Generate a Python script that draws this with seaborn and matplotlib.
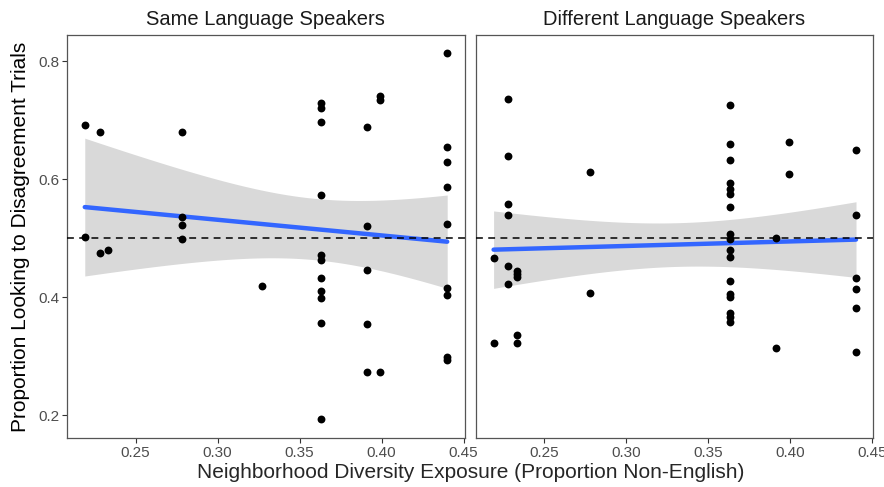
import pandas as pd
import numpy as np
import matplotlib
matplotlib.use("Agg")
import matplotlib.pyplot as plt
import seaborn as sns

# Same Language Speakers
same_x = [0.219, 0.219,
          0.228, 0.228,
          0.233,
          0.278, 0.278, 0.278, 0.278,
          0.327,
          0.363, 0.363, 0.363, 0.363, 0.363, 0.363, 0.363, 0.363, 0.363, 0.363, 0.363,
          0.391, 0.391, 0.391, 0.391, 0.391,
          0.399, 0.399, 0.399,
          0.440, 0.440, 0.440, 0.440, 0.440, 0.440, 0.440, 0.440, 0.440]
same_y = [0.692, 0.502,
          0.680, 0.475,
          0.480,
          0.681, 0.536, 0.523, 0.499,
          0.420,
          0.729, 0.721, 0.698, 0.574, 0.472, 0.463, 0.432, 0.411, 0.399, 0.357, 0.193,
          0.689, 0.521, 0.447, 0.355, 0.273,
          0.742, 0.735, 0.273,
          0.814, 0.655, 0.630, 0.587, 0.525, 0.416, 0.404, 0.299, 0.293]

# Different Language Speakers
diff_x = [0.219, 0.219,
          0.228, 0.228, 0.228, 0.228, 0.228, 0.228,
          0.233, 0.233, 0.233, 0.233, 0.233,
          0.278, 0.278,
          0.363, 0.363, 0.363, 0.363, 0.363, 0.363, 0.363, 0.363, 0.363, 0.363, 0.363,
          0.363, 0.363, 0.363, 0.363, 0.363, 0.363,
          0.391, 0.391,
          0.399, 0.399,
          0.440, 0.440, 0.440, 0.440, 0.440, 0.440]
diff_y = [0.466, 0.322,
          0.736, 0.640, 0.559, 0.539, 0.454, 0.423,
          0.445, 0.439, 0.434, 0.336, 0.322,
          0.612, 0.408,
          0.726, 0.660, 0.632, 0.594, 0.584, 0.575, 0.554, 0.508, 0.499, 0.480, 0.469,
          0.428, 0.406, 0.401, 0.373, 0.366, 0.359,
          0.501, 0.314,
          0.663, 0.609,
          0.650, 0.539, 0.432, 0.415, 0.382, 0.307]

panel_titles = ["Same Language Speakers", "Different Language Speakers"]
x_ticks = [0.25, 0.30, 0.35, 0.40, 0.45]
y_ticks = [0.2, 0.4, 0.6, 0.8]


def t_crit(dof):
    try:
        from scipy import stats
        return stats.t.ppf(0.975, dof)
    except ImportError:
        return 2.03


def lm_band(x, y, n=80):
    # analytic 95% confidence band of a straight-line fit (like geom_smooth(method="lm"))
    x = np.asarray(x)
    y = np.asarray(y)
    slope, icept = np.polyfit(x, y, 1)
    resid = y - (icept + slope * x)
    s = np.sqrt(np.sum(resid ** 2) / (len(x) - 2))
    grid = np.linspace(x.min(), x.max(), n)
    se = s * np.sqrt(1 / len(x) + (grid - x.mean()) ** 2 / np.sum((x - x.mean()) ** 2))
    fit = icept + slope * grid
    t = t_crit(len(x) - 2)
    return grid, fit - t * se, fit + t * se


df = pd.concat([
    pd.DataFrame({"exposure": same_x, "prop": same_y, "group": panel_titles[0]}),
    pd.DataFrame({"exposure": diff_x, "prop": diff_y, "group": panel_titles[1]}),
], ignore_index=True)

sns.set_style("white")
plt.rcParams["font.family"] = ["Liberation Sans", "DejaVu Sans"]

fig, axes = plt.subplots(1, 2, figsize=(8.84, 4.87), dpi=100, sharey=True)
fig.subplots_adjust(left=0.0755, right=0.988, bottom=0.1006, top=0.9281, wspace=0.0276)

for i, (ax, title) in enumerate(zip(axes, panel_titles)):
    sub = df[df["group"] == title]
    grid, lo, hi = lm_band(sub["exposure"], sub["prop"])
    ax.fill_between(grid, lo, hi, color="#D9D9D9", linewidth=0, zorder=1)
    sns.regplot(data=sub, x="exposure", y="prop", ax=ax, ci=None,
                scatter_kws={"s": 32, "color": "black", "alpha": 1, "linewidths": 0, "zorder": 4},
                line_kws={"color": "#3366FF", "linewidth": 3.2, "zorder": 2})
    ax.axhline(0.5, color="black", linestyle=(0, (4.5, 3.5)), linewidth=1.1, zorder=3)

    ax.set_xlim(0.2080, 0.4506)
    ax.set_ylim(0.1616, 0.8447)
    ax.set_xticks(x_ticks)
    ax.set_xticklabels([f"{t:.2f}" for t in x_ticks])
    ax.set_yticks(y_ticks)
    ax.set_yticklabels([f"{t:.1f}" for t in y_ticks])
    ax.set_title(title, fontsize=14.5, color="#1A1A1A", pad=7)
    ax.set_xlabel("")
    ax.set_ylabel("")
    for s in ax.spines.values():
        s.set_visible(True)
        s.set_color("#555555")
        s.set_linewidth(0.9)
    ax.tick_params(axis="both", direction="out", length=3.5, width=0.8, color="#333333",
                   labelcolor="#4D4D4D", labelsize=11, pad=2)
    if i == 1:
        ax.tick_params(axis="y", left=False, labelleft=False)
    else:
        ax.tick_params(axis="y", left=True)
    ax.tick_params(axis="x", bottom=True)

axes[0].set_ylabel("Proportion Looking to Disagreement Trials", fontsize=15, color="black", labelpad=6)
fig.supxlabel("Neighborhood Diversity Exposure (Proportion Non-English)", fontsize=15,
              x=0.532, y=0.01, va="bottom")

plt.savefig("out.png", dpi=100)
plt.close()
